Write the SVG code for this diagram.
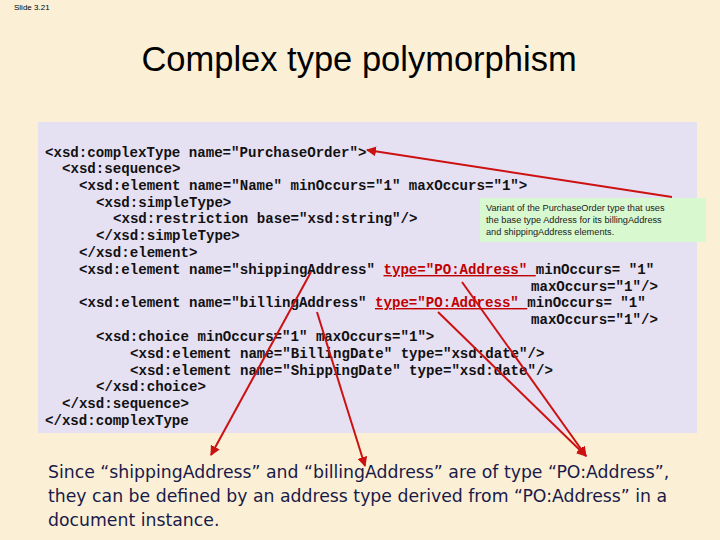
<svg xmlns="http://www.w3.org/2000/svg" width="720" height="540" viewBox="0 0 720 540">
<style>
.c{font-family:"Liberation Mono",monospace;font-weight:bold;font-size:14.1px;fill:#111}
.r{fill:#c00000;text-decoration:underline}
.b{font-family:"DejaVu Sans","Noto Sans",sans-serif;font-size:17.3px;fill:#1a1a4a}
.a{stroke:#cc1111;stroke-width:2;fill:none;marker-end:url(#m)}
</style>
<defs><marker id="m" viewBox="0 0 10 10" refX="9" refY="5" markerWidth="5" markerHeight="5" orient="auto"><path d="M0,0L10,5L0,10z" fill="#cc1111"/></marker></defs>
<rect width="720" height="540" fill="#fbf0d6"/>
<text x="14" y="10" font-family="Liberation Sans,sans-serif" font-size="8">Slide 3.21</text>
<text x="359" y="71" text-anchor="middle" font-family="Liberation Sans,sans-serif" font-size="34.5">Complex type polymorphism</text>
<g id="code">
<rect x="38" y="122" width="659" height="311" fill="#e6e0f3"/>
<g class="c" xml:space="preserve">
<text x="45" y="157">&lt;xsd:complexType name="PurchaseOrder"&gt;</text>
<text x="62" y="173">&lt;xsd:sequence&gt;</text>
<text x="79" y="190">&lt;xsd:element name="Name" minOccurs="1" maxOccurs="1"&gt;</text>
<text x="96" y="207">&lt;xsd:simpleType&gt;</text>
<text x="113" y="223">&lt;xsd:restriction base="xsd:string"/&gt;</text>
<text x="96" y="240">&lt;/xsd:simpleType&gt;</text>
<text x="79" y="257">&lt;/xsd:element&gt;</text>
<text x="79" y="274">&lt;xsd:element name="shippingAddress" <tspan class="r">type="PO:Address" </tspan>minOccurs= "1"</text>
<text x="531" y="291">maxOccurs="1"/&gt;</text>
<text x="79" y="307">&lt;xsd:element name="billingAddress" <tspan class="r">type="PO:Address" </tspan>minOccurs= "1"</text>
<text x="531" y="324">maxOccurs="1"/&gt;</text>
<text x="96" y="341">&lt;xsd:choice minOccurs="1" maxOccurs="1"&gt;</text>
<text x="130" y="358">&lt;xsd:element name="BillingDate"  type="xsd:date"/&gt;</text>
<text x="130" y="375">&lt;xsd:element name="ShippingDate" type="xsd:date"/&gt;</text>
<text x="96" y="391">&lt;/xsd:choice&gt;</text>
<text x="62" y="408">&lt;/xsd:sequence&gt;</text>
<text x="45" y="425">&lt;/xsd:complexType</text>
</g>
</g>
<g id="note">
<rect x="480" y="198" width="226" height="44" fill="#d8f8d0"/>
<g font-family="Liberation Sans,sans-serif" font-size="9.2" fill="#222">
<text x="486" y="211">Variant of the PurchaseOrder type that uses</text>
<text x="486" y="223">the base type Address for its billingAddress</text>
<text x="486" y="235">and shippingAddress elements.</text>
</g>
</g>
<g id="connectors">
<line class="a" x1="672" y1="197" x2="367" y2="150"/>
<line class="a" x1="311" y1="272" x2="211" y2="455"/>
<line class="a" x1="317" y1="312" x2="365" y2="466"/>
<line class="a" x1="462" y1="282" x2="586" y2="456"/>
<line class="a" x1="438" y1="312" x2="586" y2="456"/>
</g>
<g id="caption" class="b">
<text x="48" y="478">Since “shippingAddress” and “billingAddress” are of type “PO:Address”,</text>
<text x="48" y="502">they can be defined by an address type derived from “PO:Address” in a</text>
<text x="48" y="526">document instance.</text>
</g>
</svg>
